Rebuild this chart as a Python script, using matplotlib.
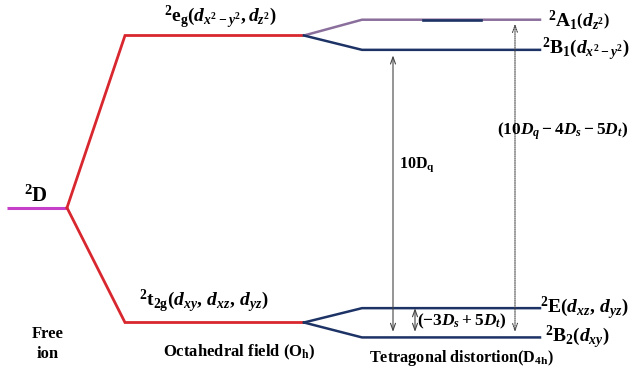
import matplotlib
matplotlib.use("Agg")
import matplotlib.pyplot as plt

# Energies in units of Dq (free-ion 2D term at zero)
free_ion_energy = 0.0
oh_levels = [6.0, -4.0]                      # 2eg, 2t2g
oh_labels = [r"${}^2\mathrm{e}_\mathrm{g}\left(d_{x^2-y^2}, d_{z^2}\right)$",
             r"${}^2\mathrm{t}_{2\mathrm{g}}\left(d_{xy},\, d_{xz},\, d_{yz}\right)$"]
d4h_levels = [6.55, 5.5, -3.5, -4.52]        # 2A1, 2B1, 2E, 2B2
d4h_parent = [0, 0, 1, 1]                    # index into oh_levels
d4h_labels = [r"${}^2\mathrm{A}_1\left(d_{z^2}\right)$",
              r"${}^2\mathrm{B}_1\left(d_{x^2-y^2}\right)$",
              r"${}^2\mathrm{E}\left(d_{xz},\, d_{yz}\right)$",
              r"${}^2\mathrm{B}_2\left(d_{xy}\right)$"]
stage_titles = ["Free\nion", r"Octahedral field (O$_\mathrm{h}$)",
                r"Tetragonal distortion(D$_\mathrm{4h}$)"]

# horizontal layout of the three columns
x_free = (7, 67)
x_oh = (125, 304)
x_d4h = (362, 540)

plt.rcParams["font.family"] = "Liberation Serif"
plt.rcParams["font.weight"] = "bold"
plt.rcParams["mathtext.fontset"] = "custom"
plt.rcParams["mathtext.rm"] = "Liberation Serif:bold"
plt.rcParams["mathtext.bf"] = "Liberation Serif:bold"
plt.rcParams["mathtext.it"] = "Liberation Serif:bold:italic"

RED = "#d8272e"
MAGENTA = "#c53fc9"
LAVENDER = "#8a6f9c"
NAVY = "#1d3366"
GREY = "#444444"

fig = plt.figure(figsize=(6.32, 3.70), dpi=100)
ax = fig.add_axes([0, 0, 1, 1])
ax.set_xlim(0, 632)
Dq_px = 28.7
ax.set_ylim((207.7 - 370) / Dq_px, 207.7 / Dq_px)
ax.axis("off")


def py(pixel_row):
    """Convert a figure row (pixels from the top) to an energy coordinate."""
    return (207.7 - pixel_row) / Dq_px


# free ion level
ax.plot(x_free, [free_ion_energy] * 2, color=MAGENTA, lw=2.2, solid_capstyle="butt")
ax.annotate(r"${}^2\mathbf{D}$", xy=(x_free[0], free_ion_energy), xytext=(29, 11),
            textcoords="offset pixels", ha="center", va="center", fontsize=15)

# octahedral levels with connectors from the free ion
for lvl in oh_levels:
    ax.plot([x_free[1], x_oh[0], x_oh[1]], [free_ion_energy, lvl, lvl],
            color=RED, lw=2.0, solid_joinstyle="miter")
ax.annotate(oh_labels[0], xy=(220, oh_levels[0]), xytext=(0, 18),
            textcoords="offset pixels", ha="center", va="center", fontsize=14)
ax.annotate(oh_labels[1], xy=(204, oh_levels[1]), xytext=(0, 21),
            textcoords="offset pixels", ha="center", va="center", fontsize=14)

# tetragonal levels with connectors from the octahedral ones
d4h_colors = [LAVENDER, NAVY, NAVY, NAVY]
for lvl, parent, col in zip(d4h_levels, d4h_parent, d4h_colors):
    p = oh_levels[parent]
    ax.plot([x_oh[1], x_d4h[0], x_d4h[1]], [p, lvl, lvl], color=col, lw=1.8)
# darker dash inside the 2A1 line
ax.plot([423, 481], [d4h_levels[0]] * 2, color=NAVY, lw=1.9)

label_dx = [8, 2, 0, 5]
for lvl, lab, dx in zip(d4h_levels, d4h_labels, label_dx):
    ax.annotate(lab, xy=(x_d4h[1], lvl), xytext=(dx, 0), textcoords="offset pixels",
                ha="left", va="center", fontsize=14)

# splitting arrows
arrow_kw = dict(arrowstyle="<->,head_length=0.5,head_width=0.18", color=GREY, lw=0.8)
ax.annotate("", xy=(393, d4h_levels[1]), xytext=(393, d4h_levels[3]),
            arrowprops=dict(shrinkA=4, shrinkB=4, **arrow_kw))
ax.text(399, py(165), r"10D$_\mathrm{q}$", ha="left", va="center", fontsize=11.5)

ax.annotate("", xy=(515, d4h_levels[0]), xytext=(515, d4h_levels[3]),
            arrowprops=dict(shrinkA=4, shrinkB=3, ls=(0, (1, 1)), **arrow_kw))
ax.text(497, py(131), r"$(10D_q - 4D_s - 5D_t)$", ha="left", va="center",
        fontsize=12.5)

ax.annotate("", xy=(415, d4h_levels[2]), xytext=(415, d4h_levels[3]),
            arrowprops=dict(shrinkA=4, shrinkB=0, **arrow_kw))
ax.text(417, py(321), r"$(-3D_s + 5D_t)$", ha="left", va="center",
        fontsize=12.5)

# column titles
ax.text(48, py(344), stage_titles[0], ha="center", va="center",
        fontsize=12, linespacing=1.3)
ax.text(239, py(352), stage_titles[1], ha="center", va="center", fontsize=12)
ax.text(461, py(358), stage_titles[2], ha="center", va="center", fontsize=11.7)

fig.savefig("out.png", dpi=100)
